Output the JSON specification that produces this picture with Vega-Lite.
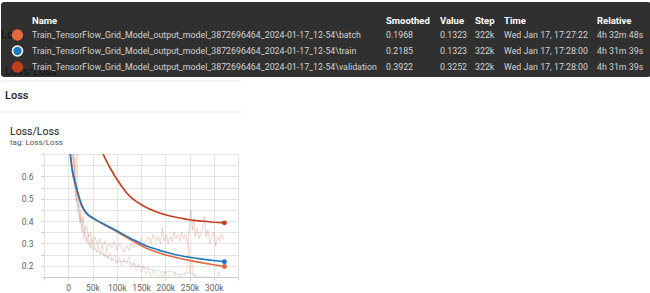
{
  "$schema": "https://vega.github.io/schema/vega-lite/v6.json",
  "padding": 0,
  "spacing": 0,
  "background": "white",
  "config": {"view": {"stroke": null}, "font": "Roboto"},
  "datasets": {
    "top": [
      {"kind": "bg", "c": 0, "c2": 11, "r": 0, "r2": 6},
      {"kind": "sep", "c": 0, "c2": 5, "r": 7},
      {"kind": "sep", "c": 0, "c2": 5, "r": 9},
      {"kind": "ghost", "c": 0, "r": 2, "t": "Loss"},
      {"kind": "ghost", "c": 1, "r": 5, "t": "Loss/Loss"},
      {"kind": "icon", "c": 3, "r": 2, "run": "batch"},
      {"kind": "icon", "c": 3, "r": 3, "run": "train"},
      {"kind": "icon", "c": 3, "r": 4, "run": "validation"},
      {"kind": "head", "c": 4, "r": 1, "t": "Name"},
      {"kind": "head", "c": 6, "r": 1, "t": "Smoothed"},
      {"kind": "head", "c": 7, "r": 1, "t": "Value"},
      {"kind": "head", "c": 8, "r": 1, "t": "Step"},
      {"kind": "head", "c": 9, "r": 1, "t": "Time"},
      {"kind": "head", "c": 10, "r": 1, "t": "Relative"},
      {"kind": "cell", "c": 4, "r": 2, "t": "Train_TensorFlow_Grid_Model_output_model_3872696464_2024-01-17_12-54\\batch"},
      {"kind": "cell", "c": 6, "r": 2, "t": "0.1968"},
      {"kind": "cell", "c": 7, "r": 2, "t": "0.1323"},
      {"kind": "cell", "c": 8, "r": 2, "t": "322k"},
      {"kind": "cell", "c": 9, "r": 2, "t": "Wed Jan 17, 17:27:22"},
      {"kind": "cell", "c": 10, "r": 2, "t": "4h 32m 48s"},
      {"kind": "cell", "c": 4, "r": 3, "t": "Train_TensorFlow_Grid_Model_output_model_3872696464_2024-01-17_12-54\\train"},
      {"kind": "cell", "c": 6, "r": 3, "t": "0.2185"},
      {"kind": "cell", "c": 7, "r": 3, "t": "0.1323"},
      {"kind": "cell", "c": 8, "r": 3, "t": "322k"},
      {"kind": "cell", "c": 9, "r": 3, "t": "Wed Jan 17, 17:28:00"},
      {"kind": "cell", "c": 10, "r": 3, "t": "4h 31m 39s"},
      {"kind": "cell", "c": 4, "r": 4, "t": "Train_TensorFlow_Grid_Model_output_model_3872696464_2024-01-17_12-54\\validation"},
      {"kind": "cell", "c": 6, "r": 4, "t": "0.3922"},
      {"kind": "cell", "c": 7, "r": 4, "t": "0.3252"},
      {"kind": "cell", "c": 8, "r": 4, "t": "322k"},
      {"kind": "cell", "c": 9, "r": 4, "t": "Wed Jan 17, 17:28:00"},
      {"kind": "cell", "c": 10, "r": 4, "t": "4h 31m 39s"},
      {"kind": "section", "c": 1, "r": 8, "t": "Loss"},
      {"kind": "title", "c": 2, "r": 10, "t": "Loss/Loss"},
      {"kind": "tag", "c": 2, "r": 11, "t": "tag: Loss/Loss"}
    ],
    "smooth": [
      {"run": "batch", "step": 4000, "v": 0.72},
      {"run": "batch", "step": 6000, "v": 0.67},
      {"run": "batch", "step": 8000, "v": 0.63},
      {"run": "batch", "step": 10000, "v": 0.6},
      {"run": "batch", "step": 13000, "v": 0.575},
      {"run": "batch", "step": 16000, "v": 0.55},
      {"run": "batch", "step": 20000, "v": 0.515},
      {"run": "batch", "step": 24000, "v": 0.49},
      {"run": "batch", "step": 28000, "v": 0.465},
      {"run": "batch", "step": 32000, "v": 0.45},
      {"run": "batch", "step": 36000, "v": 0.437},
      {"run": "batch", "step": 42000, "v": 0.425},
      {"run": "batch", "step": 50000, "v": 0.414},
      {"run": "batch", "step": 60000, "v": 0.401},
      {"run": "batch", "step": 70000, "v": 0.389},
      {"run": "batch", "step": 80000, "v": 0.377},
      {"run": "batch", "step": 90000, "v": 0.365},
      {"run": "batch", "step": 100000, "v": 0.353},
      {"run": "batch", "step": 110000, "v": 0.34},
      {"run": "batch", "step": 120000, "v": 0.327},
      {"run": "batch", "step": 130000, "v": 0.315},
      {"run": "batch", "step": 140000, "v": 0.303},
      {"run": "batch", "step": 150000, "v": 0.291},
      {"run": "batch", "step": 160000, "v": 0.28},
      {"run": "batch", "step": 170000, "v": 0.271},
      {"run": "batch", "step": 180000, "v": 0.263},
      {"run": "batch", "step": 190000, "v": 0.256},
      {"run": "batch", "step": 200000, "v": 0.249},
      {"run": "batch", "step": 220000, "v": 0.238},
      {"run": "batch", "step": 240000, "v": 0.228},
      {"run": "batch", "step": 260000, "v": 0.22},
      {"run": "batch", "step": 280000, "v": 0.212},
      {"run": "batch", "step": 300000, "v": 0.205},
      {"run": "batch", "step": 322000, "v": 0.1968},
      {"run": "train", "step": 3000, "v": 0.72},
      {"run": "train", "step": 5000, "v": 0.68},
      {"run": "train", "step": 7000, "v": 0.645},
      {"run": "train", "step": 10000, "v": 0.61},
      {"run": "train", "step": 13000, "v": 0.585},
      {"run": "train", "step": 16000, "v": 0.56},
      {"run": "train", "step": 20000, "v": 0.525},
      {"run": "train", "step": 24000, "v": 0.497},
      {"run": "train", "step": 28000, "v": 0.472},
      {"run": "train", "step": 32000, "v": 0.455},
      {"run": "train", "step": 36000, "v": 0.44},
      {"run": "train", "step": 42000, "v": 0.427},
      {"run": "train", "step": 50000, "v": 0.415},
      {"run": "train", "step": 60000, "v": 0.402},
      {"run": "train", "step": 70000, "v": 0.39},
      {"run": "train", "step": 80000, "v": 0.379},
      {"run": "train", "step": 90000, "v": 0.368},
      {"run": "train", "step": 100000, "v": 0.357},
      {"run": "train", "step": 110000, "v": 0.345},
      {"run": "train", "step": 120000, "v": 0.333},
      {"run": "train", "step": 130000, "v": 0.321},
      {"run": "train", "step": 140000, "v": 0.311},
      {"run": "train", "step": 150000, "v": 0.3},
      {"run": "train", "step": 160000, "v": 0.29},
      {"run": "train", "step": 170000, "v": 0.282},
      {"run": "train", "step": 180000, "v": 0.275},
      {"run": "train", "step": 190000, "v": 0.268},
      {"run": "train", "step": 200000, "v": 0.262},
      {"run": "train", "step": 220000, "v": 0.251},
      {"run": "train", "step": 240000, "v": 0.242},
      {"run": "train", "step": 260000, "v": 0.235},
      {"run": "train", "step": 280000, "v": 0.229},
      {"run": "train", "step": 300000, "v": 0.224},
      {"run": "train", "step": 322000, "v": 0.2185},
      {"run": "validation", "step": 68000, "v": 0.73},
      {"run": "validation", "step": 72000, "v": 0.7},
      {"run": "validation", "step": 76000, "v": 0.68},
      {"run": "validation", "step": 80000, "v": 0.664},
      {"run": "validation", "step": 85000, "v": 0.643},
      {"run": "validation", "step": 90000, "v": 0.624},
      {"run": "validation", "step": 95000, "v": 0.605},
      {"run": "validation", "step": 100000, "v": 0.588},
      {"run": "validation", "step": 110000, "v": 0.556},
      {"run": "validation", "step": 120000, "v": 0.527},
      {"run": "validation", "step": 130000, "v": 0.505},
      {"run": "validation", "step": 140000, "v": 0.488},
      {"run": "validation", "step": 150000, "v": 0.474},
      {"run": "validation", "step": 160000, "v": 0.462},
      {"run": "validation", "step": 170000, "v": 0.452},
      {"run": "validation", "step": 180000, "v": 0.443},
      {"run": "validation", "step": 190000, "v": 0.435},
      {"run": "validation", "step": 200000, "v": 0.428},
      {"run": "validation", "step": 210000, "v": 0.423},
      {"run": "validation", "step": 220000, "v": 0.418},
      {"run": "validation", "step": 230000, "v": 0.414},
      {"run": "validation", "step": 240000, "v": 0.41},
      {"run": "validation", "step": 250000, "v": 0.406},
      {"run": "validation", "step": 260000, "v": 0.403},
      {"run": "validation", "step": 270000, "v": 0.401},
      {"run": "validation", "step": 280000, "v": 0.399},
      {"run": "validation", "step": 290000, "v": 0.397},
      {"run": "validation", "step": 300000, "v": 0.395},
      {"run": "validation", "step": 310000, "v": 0.3935},
      {"run": "validation", "step": 322000, "v": 0.3922}
    ],
    "raw": [
      {"run": "batch", "step": 8000, "v": 0.62},
      {"run": "batch", "step": 10000, "v": 0.75},
      {"run": "batch", "step": 12000, "v": 0.55},
      {"run": "batch", "step": 14000, "v": 0.68},
      {"run": "batch", "step": 16000, "v": 0.49},
      {"run": "batch", "step": 18000, "v": 0.76},
      {"run": "batch", "step": 20000, "v": 0.46},
      {"run": "batch", "step": 22000, "v": 0.53},
      {"run": "batch", "step": 24000, "v": 0.39},
      {"run": "batch", "step": 26000, "v": 0.45},
      {"run": "batch", "step": 28000, "v": 0.35},
      {"run": "batch", "step": 30000, "v": 0.41},
      {"run": "batch", "step": 32000, "v": 0.32},
      {"run": "batch", "step": 35000, "v": 0.37},
      {"run": "batch", "step": 38000, "v": 0.3},
      {"run": "batch", "step": 41000, "v": 0.34},
      {"run": "batch", "step": 44000, "v": 0.28},
      {"run": "batch", "step": 47000, "v": 0.32},
      {"run": "batch", "step": 50000, "v": 0.27},
      {"run": "batch", "step": 54000, "v": 0.3},
      {"run": "batch", "step": 58000, "v": 0.26},
      {"run": "batch", "step": 62000, "v": 0.29},
      {"run": "batch", "step": 66000, "v": 0.25},
      {"run": "batch", "step": 70000, "v": 0.28},
      {"run": "batch", "step": 74000, "v": 0.24},
      {"run": "batch", "step": 78000, "v": 0.27},
      {"run": "batch", "step": 82000, "v": 0.23},
      {"run": "batch", "step": 86000, "v": 0.26},
      {"run": "batch", "step": 90000, "v": 0.22},
      {"run": "batch", "step": 95000, "v": 0.25},
      {"run": "batch", "step": 100000, "v": 0.21},
      {"run": "batch", "step": 105000, "v": 0.24},
      {"run": "batch", "step": 110000, "v": 0.2},
      {"run": "batch", "step": 115000, "v": 0.23},
      {"run": "batch", "step": 120000, "v": 0.21},
      {"run": "batch", "step": 125000, "v": 0.24},
      {"run": "batch", "step": 130000, "v": 0.19},
      {"run": "batch", "step": 135000, "v": 0.22},
      {"run": "batch", "step": 140000, "v": 0.18},
      {"run": "batch", "step": 145000, "v": 0.21},
      {"run": "batch", "step": 150000, "v": 0.17},
      {"run": "batch", "step": 155000, "v": 0.2},
      {"run": "batch", "step": 160000, "v": 0.16},
      {"run": "batch", "step": 165000, "v": 0.19},
      {"run": "batch", "step": 170000, "v": 0.15},
      {"run": "batch", "step": 175000, "v": 0.18},
      {"run": "batch", "step": 180000, "v": 0.16},
      {"run": "batch", "step": 185000, "v": 0.14},
      {"run": "batch", "step": 190000, "v": 0.17},
      {"run": "batch", "step": 195000, "v": 0.15},
      {"run": "batch", "step": 200000, "v": 0.18},
      {"run": "batch", "step": 205000, "v": 0.14},
      {"run": "batch", "step": 210000, "v": 0.16},
      {"run": "batch", "step": 215000, "v": 0.13},
      {"run": "batch", "step": 220000, "v": 0.17},
      {"run": "batch", "step": 225000, "v": 0.14},
      {"run": "batch", "step": 230000, "v": 0.16},
      {"run": "batch", "step": 235000, "v": 0.13},
      {"run": "batch", "step": 240000, "v": 0.15},
      {"run": "batch", "step": 245000, "v": 0.19},
      {"run": "batch", "step": 248000, "v": 0.3},
      {"run": "batch", "step": 251000, "v": 0.17},
      {"run": "batch", "step": 255000, "v": 0.23},
      {"run": "batch", "step": 258000, "v": 0.14},
      {"run": "batch", "step": 262000, "v": 0.16},
      {"run": "batch", "step": 266000, "v": 0.13},
      {"run": "batch", "step": 270000, "v": 0.15},
      {"run": "batch", "step": 275000, "v": 0.12},
      {"run": "batch", "step": 280000, "v": 0.14},
      {"run": "batch", "step": 285000, "v": 0.13},
      {"run": "batch", "step": 290000, "v": 0.15},
      {"run": "batch", "step": 295000, "v": 0.12},
      {"run": "batch", "step": 300000, "v": 0.14},
      {"run": "batch", "step": 305000, "v": 0.13},
      {"run": "batch", "step": 310000, "v": 0.17},
      {"run": "batch", "step": 315000, "v": 0.12},
      {"run": "batch", "step": 322000, "v": 0.1323},
      {"run": "train", "step": 10000, "v": 0.7},
      {"run": "train", "step": 15000, "v": 0.52},
      {"run": "train", "step": 20000, "v": 0.44},
      {"run": "train", "step": 30000, "v": 0.36},
      {"run": "train", "step": 40000, "v": 0.31},
      {"run": "train", "step": 50000, "v": 0.28},
      {"run": "train", "step": 65000, "v": 0.26},
      {"run": "train", "step": 80000, "v": 0.24},
      {"run": "train", "step": 100000, "v": 0.22},
      {"run": "train", "step": 120000, "v": 0.22},
      {"run": "train", "step": 140000, "v": 0.2},
      {"run": "train", "step": 160000, "v": 0.19},
      {"run": "train", "step": 180000, "v": 0.18},
      {"run": "train", "step": 200000, "v": 0.17},
      {"run": "train", "step": 211000, "v": 0.177},
      {"run": "train", "step": 230000, "v": 0.16},
      {"run": "train", "step": 250000, "v": 0.17},
      {"run": "train", "step": 270000, "v": 0.15},
      {"run": "train", "step": 290000, "v": 0.15},
      {"run": "train", "step": 310000, "v": 0.14},
      {"run": "train", "step": 322000, "v": 0.1323},
      {"run": "validation", "step": 10000, "v": 0.75},
      {"run": "validation", "step": 14000, "v": 0.6},
      {"run": "validation", "step": 18000, "v": 0.5},
      {"run": "validation", "step": 22000, "v": 0.45},
      {"run": "validation", "step": 26000, "v": 0.4},
      {"run": "validation", "step": 30000, "v": 0.42},
      {"run": "validation", "step": 34000, "v": 0.36},
      {"run": "validation", "step": 38000, "v": 0.38},
      {"run": "validation", "step": 42000, "v": 0.33},
      {"run": "validation", "step": 46000, "v": 0.35},
      {"run": "validation", "step": 50000, "v": 0.3},
      {"run": "validation", "step": 55000, "v": 0.33},
      {"run": "validation", "step": 60000, "v": 0.29},
      {"run": "validation", "step": 65000, "v": 0.32},
      {"run": "validation", "step": 70000, "v": 0.28},
      {"run": "validation", "step": 75000, "v": 0.31},
      {"run": "validation", "step": 80000, "v": 0.27},
      {"run": "validation", "step": 85000, "v": 0.3},
      {"run": "validation", "step": 90000, "v": 0.28},
      {"run": "validation", "step": 95000, "v": 0.31},
      {"run": "validation", "step": 100000, "v": 0.27},
      {"run": "validation", "step": 105000, "v": 0.3},
      {"run": "validation", "step": 110000, "v": 0.28},
      {"run": "validation", "step": 115000, "v": 0.26},
      {"run": "validation", "step": 120000, "v": 0.29},
      {"run": "validation", "step": 125000, "v": 0.27},
      {"run": "validation", "step": 130000, "v": 0.3},
      {"run": "validation", "step": 135000, "v": 0.28},
      {"run": "validation", "step": 140000, "v": 0.31},
      {"run": "validation", "step": 145000, "v": 0.29},
      {"run": "validation", "step": 150000, "v": 0.32},
      {"run": "validation", "step": 155000, "v": 0.29},
      {"run": "validation", "step": 160000, "v": 0.31},
      {"run": "validation", "step": 165000, "v": 0.33},
      {"run": "validation", "step": 170000, "v": 0.3},
      {"run": "validation", "step": 175000, "v": 0.34},
      {"run": "validation", "step": 180000, "v": 0.31},
      {"run": "validation", "step": 185000, "v": 0.33},
      {"run": "validation", "step": 190000, "v": 0.3},
      {"run": "validation", "step": 194000, "v": 0.37},
      {"run": "validation", "step": 198000, "v": 0.31},
      {"run": "validation", "step": 202000, "v": 0.34},
      {"run": "validation", "step": 206000, "v": 0.3},
      {"run": "validation", "step": 210000, "v": 0.33},
      {"run": "validation", "step": 214000, "v": 0.31},
      {"run": "validation", "step": 218000, "v": 0.35},
      {"run": "validation", "step": 222000, "v": 0.32},
      {"run": "validation", "step": 226000, "v": 0.34},
      {"run": "validation", "step": 230000, "v": 0.31},
      {"run": "validation", "step": 234000, "v": 0.35},
      {"run": "validation", "step": 238000, "v": 0.32},
      {"run": "validation", "step": 242000, "v": 0.34},
      {"run": "validation", "step": 246000, "v": 0.3},
      {"run": "validation", "step": 250000, "v": 0.38},
      {"run": "validation", "step": 253000, "v": 0.45},
      {"run": "validation", "step": 256000, "v": 0.36},
      {"run": "validation", "step": 259000, "v": 0.41},
      {"run": "validation", "step": 262000, "v": 0.33},
      {"run": "validation", "step": 266000, "v": 0.37},
      {"run": "validation", "step": 270000, "v": 0.32},
      {"run": "validation", "step": 274000, "v": 0.35},
      {"run": "validation", "step": 278000, "v": 0.38},
      {"run": "validation", "step": 281000, "v": 0.42},
      {"run": "validation", "step": 284000, "v": 0.33},
      {"run": "validation", "step": 288000, "v": 0.36},
      {"run": "validation", "step": 292000, "v": 0.3},
      {"run": "validation", "step": 296000, "v": 0.33},
      {"run": "validation", "step": 300000, "v": 0.35},
      {"run": "validation", "step": 304000, "v": 0.29},
      {"run": "validation", "step": 308000, "v": 0.33},
      {"run": "validation", "step": 312000, "v": 0.31},
      {"run": "validation", "step": 316000, "v": 0.34},
      {"run": "validation", "step": 320000, "v": 0.32},
      {"run": "validation", "step": 322000, "v": 0.3252}
    ]
  },
  "vconcat": [
    {
      "width": 607,
      "height": 153,
      "data": {"name": "top"},
      "encoding": {
        "x": {"field": "c", "type": "quantitative", "axis": null,
              "scale": {"domain": [0, 1, 2, 3, 4, 5, 6, 7, 8, 9, 10, 11], "range": [-43, -39, -34, -26.5, -12, 197, 342, 396, 431, 460, 553, 607]}},
        "y": {"field": "r", "type": "quantitative", "axis": null,
              "scale": {"domain": [0, 1, 2, 3, 4, 5, 6, 7, 8, 9, 10, 11], "range": [2, 20.5, 35, 51, 67, 72, 77, 81, 96, 112, 131.5, 142.5]}}
      },
      "layer": [
        {
          "transform": [{"filter": "datum.kind == 'bg'"}],
          "mark": {"type": "rect", "color": "#303030", "cornerRadius": 3},
          "encoding": {"x2": {"field": "c2"}, "y2": {"field": "r2"}}
        },
        {
          "transform": [{"filter": "datum.kind == 'sep'"}],
          "mark": {"type": "rule", "color": "#e6e6e6", "strokeWidth": 1},
          "encoding": {"x2": {"field": "c2"}}
        },
        {
          "transform": [{"filter": "datum.kind == 'ghost'"}],
          "mark": {"type": "text", "align": "left", "baseline": "middle", "fontSize": 11, "color": "#111111"},
          "encoding": {"text": {"field": "t"}}
        },
        {
          "transform": [{"filter": "datum.kind == 'icon'"}],
          "mark": {"type": "point", "shape": "circle", "filled": true, "opacity": 1},
          "encoding": {
            "color": {"field": "run", "type": "nominal", "legend": null,
                      "scale": {"domain": ["batch", "train", "validation"], "range": ["#e2683f", "#1d77c0", "#c03e1d"]}},
            "size": {"condition": {"test": "datum.run == 'train'", "value": 100}, "value": 135},
            "stroke": {"condition": {"test": "datum.run == 'train'", "value": "#ffffff"}, "value": null},
            "strokeWidth": {"value": 1.6}
          }
        },
        {
          "transform": [{"filter": "datum.kind == 'head'"}],
          "mark": {"type": "text", "align": "left", "baseline": "middle", "fontSize": 9.5, "fontWeight": "bold", "color": "#ffffff"},
          "encoding": {"text": {"field": "t"}}
        },
        {
          "transform": [{"filter": "datum.kind == 'cell'"}],
          "mark": {"type": "text", "align": "left", "baseline": "middle", "fontSize": 8.8, "color": "#d4d4d4"},
          "encoding": {"text": {"field": "t"}}
        },
        {
          "transform": [{"filter": "datum.kind == 'section'"}],
          "mark": {"type": "text", "align": "left", "baseline": "middle", "fontSize": 11, "fontWeight": 500, "color": "#212121"},
          "encoding": {"text": {"field": "t"}}
        },
        {
          "transform": [{"filter": "datum.kind == 'title'"}],
          "mark": {"type": "text", "align": "left", "baseline": "middle", "fontSize": 10.5, "color": "#212121"},
          "encoding": {"text": {"field": "t"}}
        },
        {
          "transform": [{"filter": "datum.kind == 'tag'"}],
          "mark": {"type": "text", "align": "left", "baseline": "middle", "fontSize": 8, "color": "#555555"},
          "encoding": {"text": {"field": "t"}}
        }
      ]
    },
    {
      "width": 194,
      "height": 123,
      "encoding": {
        "x": {"field": "step", "type": "quantitative",
              "scale": {"domain": [-50000, 350000], "nice": false, "zero": false},
              "axis": {"title": null, "values": [-50000, 0, 50000, 100000, 150000, 200000, 250000, 300000, 350000],
                       "labelExpr": "datum.value < 0 || datum.value > 300000 ? '' : (datum.value == 0 ? '0' : format(datum.value / 1000, 'd') + 'k')",
                       "grid": true, "gridColor": "#e3e3e3", "domainColor": "#cccccc", "tickColor": "#cccccc", "tickSize": 3,
                       "labelFontSize": 8.5, "labelColor": "#616161", "labelPadding": 3, "labelFlush": false, "labelOverlap": false}},
        "y": {"field": "v", "type": "quantitative",
              "scale": {"domain": [0.15, 0.7], "nice": false, "zero": false},
              "axis": {"title": null, "values": [0.15, 0.2, 0.25, 0.3, 0.35, 0.4, 0.45, 0.5, 0.55, 0.6, 0.65, 0.7],
                       "labelExpr": "abs(datum.value * 10 - round(datum.value * 10)) < 0.001 && datum.value < 0.65 && datum.value > 0.17 ? format(datum.value, '.1f') : ''",
                       "labelFontSize": {"condition": {"test": "datum.value > 0.62 || datum.value < 0.17", "value": 0}, "value": 8.5},
                       "grid": true, "gridColor": "#e3e3e3", "domain": false, "tickColor": "#cccccc", "tickSize": 3,
                       "labelColor": "#616161", "labelPadding": 8, "labelOverlap": false,
                       "minExtent": 43, "maxExtent": 43}},
        "color": {"field": "run", "type": "nominal", "legend": null,
                  "scale": {"domain": ["batch", "train", "validation"], "range": ["#ff7043", "#0077bb", "#cc3311"]}}
      },
      "layer": [
        {
          "mark": {"type": "rule", "color": "#9e9e9e", "strokeWidth": 1},
          "encoding": {"x": {"datum": 0}, "y": null, "color": null}
        },
        {
          "data": {"name": "raw"},
          "mark": {"type": "line", "strokeWidth": 1, "strokeOpacity": 0.22, "clip": true},
          "encoding": {"detail": {"field": "run"}}
        },
        {
          "data": {"name": "smooth"},
          "mark": {"type": "line", "strokeWidth": 1.6, "clip": true},
          "encoding": {"detail": {"field": "run"}}
        },
        {
          "mark": {"type": "rule", "color": "#a0a0a0", "strokeWidth": 1},
          "encoding": {"x": {"datum": 322000}, "x2": {"datum": 350000}, "y": {"datum": 0.3922}, "color": null}
        },
        {
          "data": {"name": "smooth"},
          "transform": [{"filter": "datum.step == 322000"}],
          "mark": {"type": "point", "shape": "circle", "filled": true, "size": 24, "opacity": 1}
        }
      ]
    }
  ]
}
